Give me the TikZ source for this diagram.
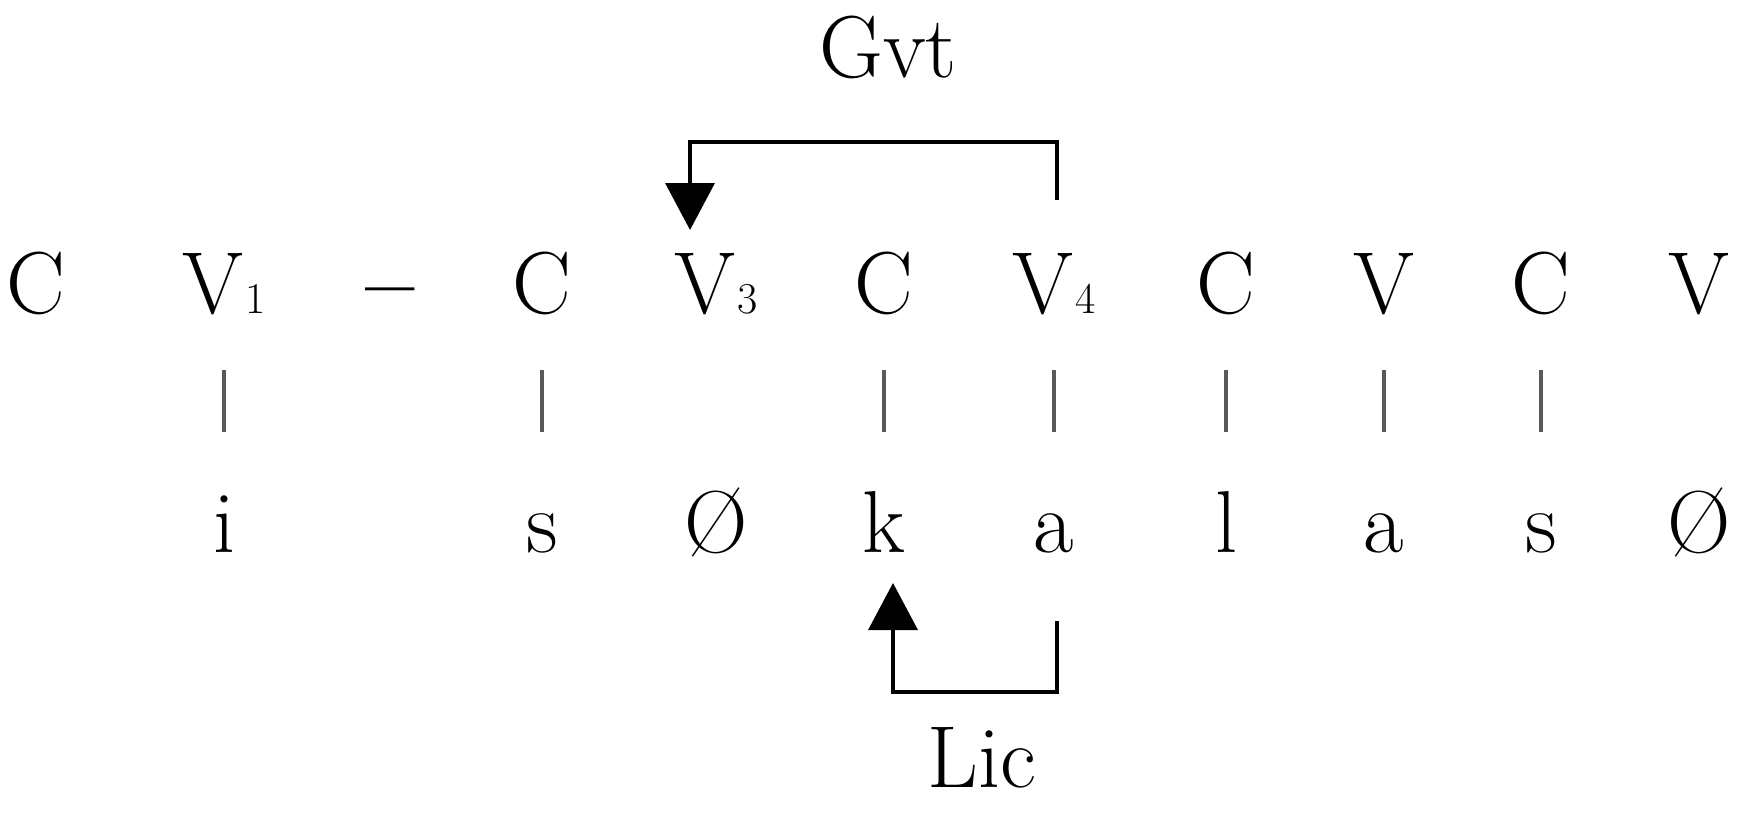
\documentclass[tikz,border=0pt]{standalone}
\usepackage{fontspec}
\usetikzlibrary{arrows.meta}
\newcommand{\sbs}[1]{{\fontsize{22}{22}\selectfont\kern1pt #1}}
\begin{document}
\begin{tikzpicture}[x=0.5pt,y=-0.5pt,
  lab/.style={font=\fontsize{44}{50}\selectfont, inner sep=0pt, text height=30pt, text depth=0pt, anchor=base},
  assoc/.style={draw=black!65, line width=1.6pt, shorten <=28.5pt, shorten >=30pt},
  rel/.style={draw=black, line width=1.8pt},
  tip/.style={-{Triangle[width=24.5pt,length=23.5pt]}}
]
\useasboundingbox (0,0) rectangle (1743,813);
% top (skeletal) row
\node[lab] (t1)  at (36,313)   {C};
\node[lab] (t2)  at (224,313)  {V\sbs{1}};
\node[lab] (t3)  at (390,313)  {\bfseries –};
\node[lab] (t4)  at (542,313)  {C};
\node[lab] (t5)  at (716,313)  {V\sbs{3}};
\node[lab] (t6)  at (884,313)  {C};
\node[lab] (t7)  at (1054,313) {V\sbs{4}};
\node[lab] (t8)  at (1226,313) {C};
\node[lab] (t9)  at (1384,313) {V};
\node[lab] (t10) at (1541,313) {C};
\node[lab] (t11) at (1699,313) {V};
% bottom (melodic) row
\node[lab] (b2)  at (224,552)  {i};
\node[lab] (b4)  at (542,552)  {s};
\node[lab] (b5)  at (716,552)  {Ø};
\node[lab] (b6)  at (884,552)  {k};
\node[lab] (b7)  at (1054,552) {a};
\node[lab] (b8)  at (1226,552) {l};
\node[lab] (b9)  at (1384,552) {a};
\node[lab] (b10) at (1541,552) {s};
\node[lab] (b11) at (1699,552) {Ø};
% association lines
\foreach \k in {2,4,6,7,8,9,10} \draw[assoc] (t\k.south) -- (b\k.north);
% government
\node[lab] (gvt) at (888,78) {Gvt};
\coordinate (g0) at (1057,200);
\coordinate (g1) at (1057,142);
\coordinate (g2) at (690,230);
\draw[rel,tip] (g0) -- (g1) -| (g2);
% licensing
\node[lab] (lic) at (982,787) {Lic};
\coordinate (l0) at (1057,621);
\coordinate (l1) at (1057,692);
\coordinate (l2) at (893,583);
\draw[rel,tip] (l0) -- (l1) -| (l2);
\end{tikzpicture}
\end{document}
